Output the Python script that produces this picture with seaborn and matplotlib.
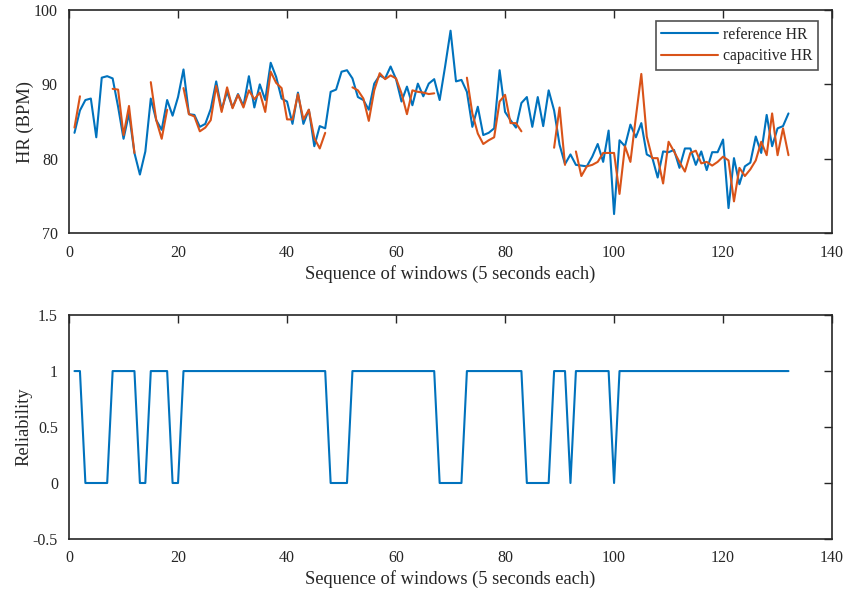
import numpy as np
import pandas as pd
import matplotlib
matplotlib.use("Agg")
import matplotlib.pyplot as plt
from matplotlib.lines import Line2D
import seaborn as sns

# heart rate per 5 s window
reference_hr = [
    83.5, 86.5, 87.9, 88.1, 82.9, 90.9, 91.1, 90.8, 87.0, 82.7,
    86.1, 80.8, 77.9, 81.0, 88.1, 85.2, 83.9, 87.9, 85.8, 88.3,
    92.0, 86.0, 85.9, 84.3, 84.7, 86.7, 90.4, 86.6, 89.0, 86.9,
    88.7, 87.1, 91.1, 86.9, 90.0, 87.9, 92.9, 91.0, 88.1, 87.7,
    84.7, 88.9, 84.7, 86.6, 81.7, 84.4, 84.1, 89.0, 89.3, 91.7,
    91.9, 90.8, 88.3, 87.9, 86.6, 90.1, 91.2, 90.8, 92.4, 90.7,
    87.7, 89.7, 87.2, 90.1, 88.4, 90.1, 90.7, 87.9, 92.4, 97.2,
    90.4, 90.6, 89.0, 84.3, 87.0, 83.2, 83.5, 84.1, 91.9, 86.3,
    85.2, 84.2, 87.5, 88.3, 84.3, 88.3, 84.4, 89.2, 86.5, 81.9,
    79.3, 80.6, 79.2, 79.1, 79.0, 80.3, 82.0, 79.6, 83.8, 72.6,
    82.5, 81.7, 84.6, 82.9, 84.8, 80.6, 80.2, 77.5, 81.0, 80.9,
    81.2, 78.8, 81.4, 81.4, 79.2, 81.0, 78.5, 80.9, 80.9, 82.6,
    73.4, 80.1, 76.6, 79.0, 79.5, 83.0, 80.8, 85.9, 81.7, 84.1,
    84.4, 86.1,
]

nan = np.nan
capacitive_hr = [
    84.2, 88.4, nan, nan, nan, nan, nan, 89.4, 89.3, 83.2,
    87.1, 80.8, nan, nan, 90.3, 85.2, 82.7, 86.6, nan, nan,
    89.5, 86.0, 85.7, 83.7, 84.2, 85.2, 89.8, 86.3, 89.6, 86.8,
    88.6, 86.9, 89.2, 88.0, 88.9, 86.3, 91.7, 90.2, 89.5, 85.3,
    85.3, 88.7, 85.3, 86.6, 82.8, 81.4, 83.5, nan, nan, nan,
    nan, 89.6, 89.2, 88.1, 85.1, 89.2, 91.5, 90.7, 91.2, 90.8,
    88.8, 86.0, 89.2, 89.0, 88.9, 88.7, 88.8, nan, nan, nan,
    nan, nan, 90.9, 86.1, 83.4, 82.0, 82.5, 82.9, 87.7, 88.6,
    84.8, 84.8, 83.7, nan, nan, nan, nan, nan, 81.5, 86.9,
    79.2, nan, 81.0, 77.7, 79.0, 79.2, 79.6, 80.8, 80.8, 80.8,
    75.3, 81.7, 79.6, 85.6, 91.4, 83.0, 80.1, 80.1, 76.7, 82.3,
    81.0, 79.6, 78.3, 80.8, 81.1, 79.4, 79.6, 79.1, 79.6, 80.3,
    79.8, 74.3, 78.8, 77.7, 78.6, 79.8, 82.3, 80.5, 86.1, 80.5,
    84.1, 80.5,
]

reliability = (
    [1] * 2 + [0] * 5 + [1] * 5 + [0] * 2 + [1] * 4 + [0] * 2 + [1] * 27
    + [0] * 4 + [1] * 16 + [0] * 5 + [1] * 11 + [0] * 5 + [1] * 3 + [0]
    + [1] * 7 + [0] + [1] * 32
)

windows = np.arange(1, len(reference_hr) + 1)

blue = "#0072BD"
orange = "#D95319"
axis_col = "#262626"

sns.set_theme(style="white")
plt.rcParams["font.family"] = ["Liberation Serif", "DejaVu Serif"]

ref_df = pd.DataFrame({"window": windows, "hr": reference_hr})
cap_df = pd.DataFrame({"window": windows, "hr": capacitive_hr})
# split capacitive HR into unbroken pieces so the gaps stay gaps
cap_df["seg"] = cap_df["hr"].isna().cumsum()
cap_df = cap_df.dropna()
rel_df = pd.DataFrame({"window": windows, "rel": reliability})

fig = plt.figure(figsize=(8.45, 5.97), dpi=100)
ax1 = fig.add_axes([0.0817, 0.609, 0.903, 0.3745])
ax2 = fig.add_axes([0.0817, 0.0972, 0.903, 0.375])

sns.lineplot(data=ref_df, x="window", y="hr", color=blue, lw=1.5, ax=ax1)
sns.lineplot(data=cap_df, x="window", y="hr", units="seg", estimator=None,
             color=orange, lw=1.5, ax=ax1)
sns.lineplot(data=rel_df, x="window", y="rel", color=blue, lw=1.5, ax=ax2)

ax1.set_ylim(70, 100)
ax1.set_yticks([70, 80, 90, 100])
ax1.set_ylabel("HR (BPM)", fontsize=13.3, color=axis_col, labelpad=0)
ax2.set_ylim(-0.5, 1.5)
ax2.set_yticks([-0.5, 0, 0.5, 1, 1.5])
ax2.set_yticklabels(["-0.5", "0", "0.5", "1", "1.5"])
ax2.set_ylabel("Reliability", fontsize=13.3, color=axis_col, labelpad=0)

for ax in (ax1, ax2):
    ax.set_xlim(0, 140)
    ax.set_xticks(range(0, 141, 20))
    ax.set_xlabel("Sequence of windows (5 seconds each)", fontsize=13.3,
                  color=axis_col, labelpad=3)
    ax.tick_params(direction="in", length=6, width=1, top=True, right=True,
                   labelsize=11.5, colors=axis_col, pad=8)
    for sp in ax.spines.values():
        sp.set_color(axis_col)
        sp.set_linewidth(1.2)

handles = [Line2D([], [], color=blue, lw=1.5), Line2D([], [], color=orange, lw=1.5)]
leg = ax1.legend(handles, ["reference HR", "capacitive HR"], loc="upper right",
                 bbox_to_anchor=(0.982, 0.95), borderaxespad=0, fontsize=11.3,
                 frameon=True, fancybox=False, handlelength=3.6,
                 handletextpad=0.35, borderpad=0.35, labelspacing=0.35)
leg.get_frame().set_edgecolor(axis_col)
leg.get_frame().set_linewidth(1.2)

fig.savefig("out.png", dpi=100)
